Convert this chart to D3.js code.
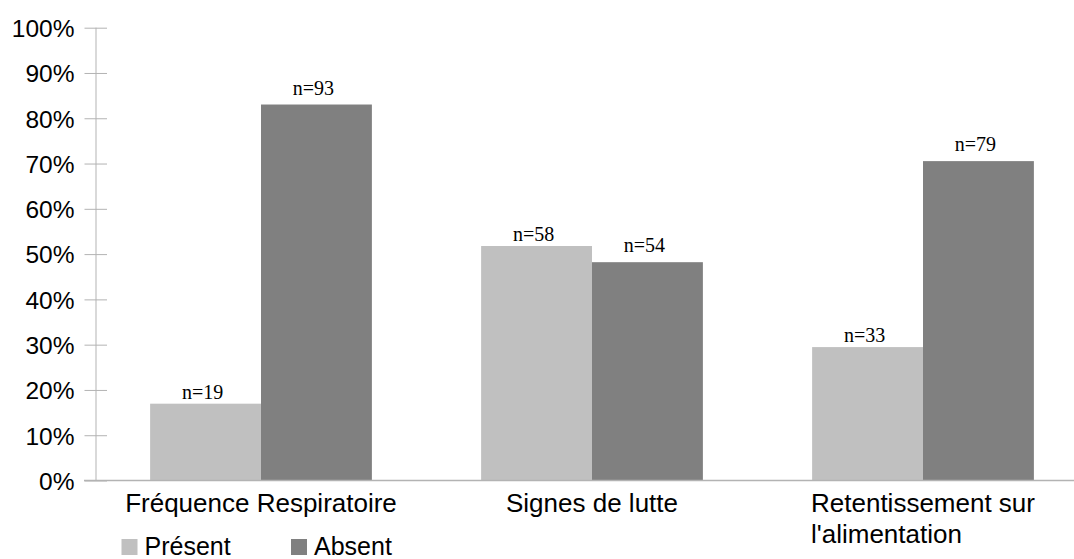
<!DOCTYPE html>
<html>
<head>
<meta charset="utf-8">
<script src="https://cdn.jsdelivr.net/npm/d3@7"></script>
<style>
  html, body { margin: 0; padding: 0; background: #fff; }
  svg { display: block; }
</style>
</head>
<body>
<svg id="chart" width="1074" height="559"></svg>
<script>
// Categories, series and values (share of cases, with counts shown above bars)
const categories = ["Fréquence Respiratoire", "Signes de lutte", "Retentissement sur l'alimentation"];
const seriesNames = ["Présent", "Absent"];
const presentCounts = [19, 58, 33];
const absentCounts = [93, 54, 79];
const presentShare = [19 / 112, 58 / 112, 33 / 112];
const absentShare = [93 / 112, 54 / 112, 79 / 112];
const yTicks = [0, 0.1, 0.2, 0.3, 0.4, 0.5, 0.6, 0.7, 0.8, 0.9, 1.0];

const seriesColors = { "Présent": "#c0c0c0", "Absent": "#808080" };
const labelLift = { "Présent": 5, "Absent": 10 };

const rows = categories.map((c, i) => ({
  category: c,
  values: [
    { series: "Présent", share: presentShare[i], count: presentCounts[i] },
    { series: "Absent", share: absentShare[i], count: absentCounts[i] }
  ]
}));

const svg = d3.select("#chart");
const axisColor = "#b3b3b3";
const sans = "'Liberation Sans', Arial, sans-serif";

const x0 = d3.scaleBand().domain(categories).range([95.5, 1088.5]);
const bw = x0.bandwidth();
const x1 = d3.scaleBand().domain(seriesNames).range([bw * 0.165, bw * 0.835]);
const y = d3.scaleLinear().domain([0, 1]).range([480.5, 27.7]);

// bars
const groups = svg.append("g").selectAll("g").data(rows).join("g")
  .attr("transform", d => `translate(${x0(d.category)},0)`);

groups.selectAll("rect").data(d => d.values).join("rect")
  .attr("x", d => x1(d.series))
  .attr("y", d => y(d.share))
  .attr("width", x1.bandwidth())
  .attr("height", d => y(0) - y(d.share))
  .attr("fill", d => seriesColors[d.series]);

// count labels above bars
groups.selectAll("text.count").data(d => d.values).join("text")
  .attr("class", "count")
  .attr("x", d => x1(d.series) + x1.bandwidth() / 2 - 3)
  .attr("y", d => y(d.share) - labelLift[d.series])
  .attr("text-anchor", "middle")
  .attr("font-family", "'Liberation Serif', 'Times New Roman', serif")
  .attr("font-size", "20px")
  .attr("fill", "#000")
  .text(d => "n=" + d.count);

// y axis
const yAxis = svg.append("g")
  .attr("transform", "translate(95.5,0)")
  .call(d3.axisLeft(y).tickValues(yTicks).tickFormat(d3.format(".0%")).tickSize(11).tickPadding(10));
yAxis.select(".domain").attr("stroke", axisColor).attr("d", `M0.5,${y(1)}V${y(0)}`);
yAxis.selectAll(".tick line").attr("stroke", axisColor).attr("x1", -11).attr("x2", 11.5);
yAxis.selectAll(".tick text")
  .attr("font-family", sans).attr("font-size", "24.5px").attr("fill", "#000")
  .attr("x", -21).attr("dy", "0.36em");

// x axis baseline
svg.append("line")
  .attr("x1", 84).attr("x2", 1074)
  .attr("y1", y(0)).attr("y2", y(0))
  .attr("stroke", axisColor).attr("stroke-width", 1.5);

// category labels, wrapped inside the band, lines left-aligned in a centred block
const maxLabelWidth = 310;
categories.forEach(cat => {
  const cx = x0(cat) + bw / 2;
  const t = svg.append("text")
    .attr("font-family", sans).attr("font-size", "26px").attr("fill", "#000");
  const words = cat.split(" ");
  const lines = [];
  let cur = [];
  const probe = t.append("tspan");
  words.forEach(w => {
    const trial = cur.concat([w]).join(" ");
    probe.text(trial);
    if (probe.node().getComputedTextLength() > maxLabelWidth && cur.length) {
      lines.push(cur.join(" "));
      cur = [w];
    } else {
      cur.push(w);
    }
  });
  lines.push(cur.join(" "));
  probe.remove();
  const spans = lines.map((ln, i) => t.append("tspan").attr("y", 512 + i * 31).text(ln));
  const widest = d3.max(spans, s => s.node().getComputedTextLength());
  spans.forEach(s => s.attr("x", cx - widest / 2));
});

// legend
const legendX = [121.5, 291];
seriesNames.forEach((s, i) => {
  svg.append("rect")
    .attr("x", legendX[i]).attr("y", 539)
    .attr("width", 16).attr("height", 16)
    .attr("fill", seriesColors[s]);
  svg.append("text")
    .attr("x", legendX[i] + 23).attr("y", 555)
    .attr("font-family", sans).attr("font-size", "25px").attr("fill", "#000")
    .text(s);
});
</script>
</body>
</html>
